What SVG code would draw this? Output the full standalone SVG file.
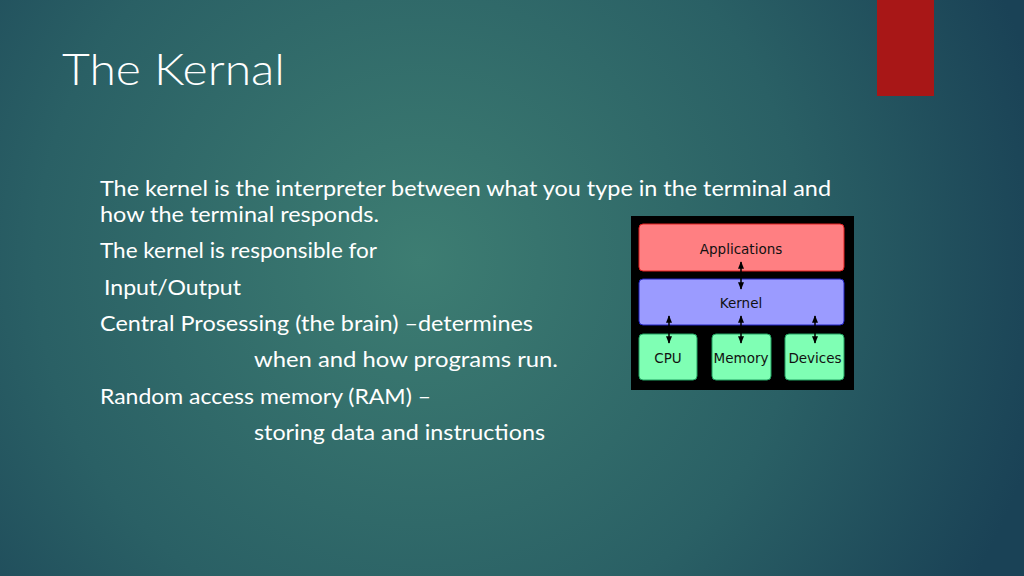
<svg xmlns="http://www.w3.org/2000/svg" width="1024" height="576" viewBox="0 0 1024 576">
<defs>
<radialGradient id="bg" cx="420" cy="260" r="640" gradientUnits="userSpaceOnUse">
<stop offset="0" stop-color="#3d7d72"/><stop offset="0.6" stop-color="#2a6065"/><stop offset="1" stop-color="#1a4256"/>
</radialGradient>
<marker id="ah" viewBox="0 0 10 10" refX="9" refY="5" markerWidth="5" markerHeight="5" orient="auto-start-reverse"><path d="M0,1 L10,5 L0,9 z" fill="#000"/></marker>
<style>
.t{font-family:"Lato","Liberation Sans",sans-serif;fill:#fff;font-size:21px}
.d{font-family:"DejaVu Sans",sans-serif;font-size:13.5px;fill:#111;text-anchor:middle}
.c{stroke:#000;stroke-width:1.5;marker-start:url(#ah);marker-end:url(#ah)}
</style>
</defs>
<rect width="1024" height="576" fill="url(#bg)"/>
<rect x="877" y="0" width="57" height="96" fill="#a81717"/>
<text x="62" y="85" font-family="Lato, 'Liberation Sans', sans-serif" font-size="44" fill="#fff" font-weight="300" textLength="223" lengthAdjust="spacingAndGlyphs">The Kernal</text>
<text class="t" x="100" y="196" textLength="731" lengthAdjust="spacingAndGlyphs">The kernel is the interpreter between what you type in the terminal and</text>
<text class="t" x="100" y="222" textLength="279" lengthAdjust="spacingAndGlyphs">how the terminal responds.</text>
<text class="t" x="100" y="258" textLength="277" lengthAdjust="spacingAndGlyphs">The kernel is responsible for</text>
<text class="t" x="104" y="295" textLength="137" lengthAdjust="spacingAndGlyphs">Input/Output</text>
<text class="t" x="100" y="331" textLength="433" lengthAdjust="spacingAndGlyphs">Central Prosessing (the brain) –determines</text>
<text class="t" x="254" y="367" textLength="304" lengthAdjust="spacingAndGlyphs">when and how programs run.</text>
<text class="t" x="100" y="404" textLength="331" lengthAdjust="spacingAndGlyphs">Random access memory (RAM) –</text>
<text class="t" x="254" y="440" textLength="291" lengthAdjust="spacingAndGlyphs">storing data and instructions</text>
<rect x="631" y="216" width="223" height="174" fill="#000"/>
<g id="apps"><rect x="639" y="224" width="205" height="47" rx="4" fill="#ff7f82" stroke="#e02020"/><text class="d" x="741" y="254">Applications</text></g>
<g id="kernel"><rect x="639" y="279" width="205" height="46" rx="4" fill="#9b9bff" stroke="#2020c0"/><text class="d" x="741" y="308">Kernel</text></g>
<g id="cpu"><rect x="639" y="334" width="58" height="46" rx="4" fill="#7fffb4" stroke="#20a060"/><text class="d" x="668" y="363">CPU</text></g>
<g id="memory"><rect x="712" y="334" width="59" height="46" rx="4" fill="#7fffb4" stroke="#20a060"/><text class="d" x="741" y="363">Memory</text></g>
<g id="devices"><rect x="785" y="334" width="59" height="46" rx="4" fill="#7fffb4" stroke="#20a060"/><text class="d" x="815" y="363">Devices</text></g>
<g id="connectors">
<line class="c" x1="741" y1="262" x2="741" y2="289"/>
<line class="c" x1="669" y1="316" x2="669" y2="343"/>
<line class="c" x1="741" y1="316" x2="741" y2="343"/>
<line class="c" x1="815" y1="316" x2="815" y2="343"/>
</g>
</svg>
